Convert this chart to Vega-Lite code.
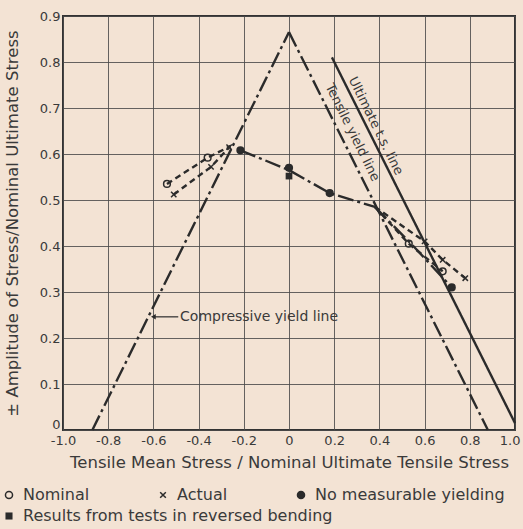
{
  "$schema": "https://vega.github.io/schema/vega-lite/v6.json",
  "width": 452,
  "height": 414,
  "autosize": {"type": "none"},
  "padding": {"left": 63, "top": 16, "right": 8, "bottom": 99},
  "background": "#f3e3d4",
  "config": {
    "font": "DejaVu Sans",
    "view": {"stroke": "#333333", "strokeWidth": 2},
    "axis": {
      "domain": false,
      "grid": true,
      "gridColor": "#4a4a4a",
      "gridOpacity": 0.85,
      "gridWidth": 1,
      "ticks": false,
      "labelColor": "#3a3a3a",
      "titleColor": "#3a3a3a",
      "labelFontSize": 13,
      "titleFontSize": 16.5,
      "titleFontWeight": "normal",
      "labelOverlap": false,
      "labelFlush": false
    }
  },
  "datasets": {
    "lines": [
      {"line_id": "compressive", "style": "dashdot", "ord": 1, "x": -0.87, "y": 0},
      {"line_id": "compressive", "style": "dashdot", "ord": 2, "x": 0, "y": 0.865},
      {"line_id": "tensile", "style": "dashdot", "ord": 1, "x": 0, "y": 0.865},
      {"line_id": "tensile", "style": "dashdot", "ord": 2, "x": 0.88, "y": 0},
      {"line_id": "ultimate", "style": "solid", "ord": 1, "x": 0.19, "y": 0.81},
      {"line_id": "ultimate", "style": "solid", "ord": 2, "x": 1.0, "y": 0.015},
      {"line_id": "main", "style": "dashdot", "ord": 1, "x": -0.215, "y": 0.608},
      {"line_id": "main", "style": "dashdot", "ord": 2, "x": 0, "y": 0.565},
      {"line_id": "main", "style": "dashdot", "ord": 3, "x": 0.18, "y": 0.515},
      {"line_id": "main", "style": "dashdot", "ord": 4, "x": 0.38, "y": 0.485},
      {"line_id": "nominal_left", "style": "dashed", "ord": 1, "x": -0.54, "y": 0.535},
      {"line_id": "nominal_left", "style": "dashed", "ord": 2, "x": -0.36, "y": 0.592},
      {"line_id": "nominal_left", "style": "dashed", "ord": 3, "x": -0.26, "y": 0.617},
      {"line_id": "actual_left", "style": "dashed", "ord": 1, "x": -0.51, "y": 0.512},
      {"line_id": "actual_left", "style": "dashed", "ord": 2, "x": -0.345, "y": 0.572},
      {"line_id": "actual_left", "style": "dashed", "ord": 3, "x": -0.26, "y": 0.617},
      {"line_id": "nominal_right", "style": "dashed", "ord": 1, "x": 0.38, "y": 0.485},
      {"line_id": "nominal_right", "style": "dashed", "ord": 2, "x": 0.53, "y": 0.405},
      {"line_id": "nominal_right", "style": "dashed", "ord": 3, "x": 0.68, "y": 0.345},
      {"line_id": "actual_right", "style": "dashed", "ord": 1, "x": 0.38, "y": 0.485},
      {"line_id": "actual_right", "style": "dashed", "ord": 2, "x": 0.6, "y": 0.41},
      {"line_id": "actual_right", "style": "dashed", "ord": 3, "x": 0.68, "y": 0.37},
      {"line_id": "actual_right", "style": "dashed", "ord": 4, "x": 0.78, "y": 0.33},
      {"line_id": "filled_right", "style": "dashdot", "ord": 1, "x": 0.38, "y": 0.485},
      {"line_id": "filled_right", "style": "dashdot", "ord": 2, "x": 0.55, "y": 0.4},
      {"line_id": "filled_right", "style": "dashdot", "ord": 3, "x": 0.72, "y": 0.31}
    ],
    "points": [
      {"marker": "Nominal", "x": -0.54, "y": 0.535},
      {"marker": "Nominal", "x": -0.36, "y": 0.592},
      {"marker": "Nominal", "x": 0.53, "y": 0.405},
      {"marker": "Nominal", "x": 0.68, "y": 0.345},
      {"marker": "Actual", "x": -0.51, "y": 0.512},
      {"marker": "Actual", "x": -0.345, "y": 0.572},
      {"marker": "Actual", "x": -0.265, "y": 0.615},
      {"marker": "Actual", "x": 0.6, "y": 0.41},
      {"marker": "Actual", "x": 0.68, "y": 0.37},
      {"marker": "Actual", "x": 0.78, "y": 0.33},
      {"marker": "No measurable yielding", "x": -0.215, "y": 0.608},
      {"marker": "No measurable yielding", "x": 0, "y": 0.57},
      {"marker": "No measurable yielding", "x": 0.18, "y": 0.515},
      {"marker": "No measurable yielding", "x": 0.72, "y": 0.31}
    ],
    "bending": [
      {"marker": "Results from tests in reversed bending", "x": 0, "y": 0.552}
    ],
    "leader": [
      {"x": -0.6, "x2": -0.49, "y": 0.246}
    ],
    "rotated_labels": [
      {"label": "Ultimate t.s. line", "x": 0.384, "y": 0.661},
      {"label": "Tensile yield line", "x": 0.281, "y": 0.647}
    ],
    "flat_labels": [
      {"label": "Compressive yield line", "x": -0.482, "y": 0.246}
    ]
  },
  "layer": [
    {
      "data": {"name": "lines"},
      "mark": {"type": "line", "color": "#2b2b2b", "strokeWidth": 2.4},
      "encoding": {
        "x": {
          "field": "x",
          "type": "quantitative",
          "scale": {"domain": [-1, 1], "nice": false, "zero": false},
          "axis": {
            "values": [-1, -0.8, -0.6, -0.4, -0.2, 0, 0.2, 0.4, 0.6, 0.8, 1],
            "labelExpr": "datum.value == 0 ? '0' : replace(format(datum.value, '.1f'), '\u2212', '-')",
            "labelAlign": {"condition": {"test": "datum.value == 1", "value": "right"}, "value": "center"},
            "labelOffset": {"condition": {"test": "datum.value == 1", "value": 5}, "value": 0},
            "title": "Tensile Mean Stress / Nominal Ultimate Tensile Stress",
            "labelPadding": 4,
            "titlePadding": 7
          }
        },
        "y": {
          "field": "y",
          "type": "quantitative",
          "scale": {"domain": [0, 0.9], "nice": false, "zero": false},
          "axis": {
            "values": [0, 0.1, 0.2, 0.3, 0.4, 0.5, 0.6, 0.7, 0.8, 0.9],
            "labelExpr": "datum.value == 0 ? '0' : format(datum.value, '.1f')",
            "labelOffset": {"condition": {"test": "datum.value == 0", "value": -6}, "value": 0},
            "title": "± Amplitude of Stress/Nominal Ultimate Stress",
            "labelPadding": 3,
            "titlePadding": 19
          }
        },
        "detail": {"field": "line_id"},
        "order": {"field": "ord", "type": "quantitative"},
        "strokeDash": {
          "field": "style",
          "type": "nominal",
          "scale": {"domain": ["solid", "dashdot", "dashed"], "range": [[1, 0], [16, 4, 3, 4], [6, 4]]},
          "legend": null
        }
      }
    },
    {
      "data": {"name": "points"},
      "mark": {"type": "point", "filled": false, "color": "#2b2b2b", "strokeWidth": 1.5, "size": 45, "opacity": 1},
      "encoding": {
        "x": {"field": "x", "type": "quantitative"},
        "y": {"field": "y", "type": "quantitative"},
        "shape": {
          "field": "marker",
          "type": "nominal",
          "scale": {
            "domain": ["Nominal", "Actual", "No measurable yielding"],
            "range": ["circle", "M-0.8,-0.8L0.8,0.8M-0.8,0.8L0.8,-0.8", "circle"]
          },
          "legend": {
            "title": null,
            "orient": "none",
            "legendX": -62,
            "legendY": 471,
            "direction": "horizontal",
            "columnPadding": 65,
            "labelFontSize": 16,
            "labelColor": "#3a3a3a",
            "labelLimit": 400,
            "labelOffset": 6,
            "symbolSize": 50,
            "symbolStrokeWidth": 1.5,
            "encode": {
              "symbols": {"update": {"stroke": {"value": "#2b2b2b"}, "strokeWidth": {"value": 1.5}}}
            }
          }
        },
        "fill": {
          "field": "marker",
          "type": "nominal",
          "scale": {
            "domain": ["Nominal", "Actual", "No measurable yielding"],
            "range": ["transparent", "transparent", "#2b2b2b"]
          }
        }
      }
    },
    {
      "data": {"name": "bending"},
      "mark": {"type": "point", "shape": "square", "filled": true, "size": 45, "opacity": 1},
      "encoding": {
        "x": {"field": "x", "type": "quantitative"},
        "y": {"field": "y", "type": "quantitative"},
        "color": {
          "field": "marker",
          "type": "nominal",
          "scale": {"range": ["#2b2b2b"]},
          "legend": {
            "title": null,
            "orient": "none",
            "legendX": -62,
            "legendY": 492,
            "labelFontSize": 16,
            "labelColor": "#3a3a3a",
            "labelLimit": 400,
            "labelOffset": 6,
            "symbolSize": 50,
            "symbolType": "square"
          }
        }
      }
    },
    {
      "data": {"name": "leader"},
      "mark": {"type": "rule", "color": "#2b2b2b", "strokeWidth": 1.2},
      "encoding": {
        "x": {"field": "x", "type": "quantitative"},
        "x2": {"field": "x2"},
        "y": {"field": "y", "type": "quantitative"}
      }
    },
    {
      "data": {"name": "leader"},
      "mark": {"type": "point", "shape": "triangle-left", "filled": true, "color": "#2b2b2b", "size": 30, "opacity": 1},
      "encoding": {
        "x": {"field": "x", "type": "quantitative"},
        "y": {"field": "y", "type": "quantitative"}
      }
    },
    {
      "data": {"name": "rotated_labels"},
      "mark": {"type": "text", "angle": 63.8, "align": "center", "baseline": "middle", "fontSize": 13, "color": "#3a3a3a"},
      "encoding": {
        "x": {"field": "x", "type": "quantitative"},
        "y": {"field": "y", "type": "quantitative"},
        "text": {"field": "label"}
      }
    },
    {
      "data": {"name": "flat_labels"},
      "mark": {"type": "text", "align": "left", "baseline": "middle", "fontSize": 14, "color": "#3a3a3a"},
      "encoding": {
        "x": {"field": "x", "type": "quantitative"},
        "y": {"field": "y", "type": "quantitative"},
        "text": {"field": "label"}
      }
    }
  ]
}
